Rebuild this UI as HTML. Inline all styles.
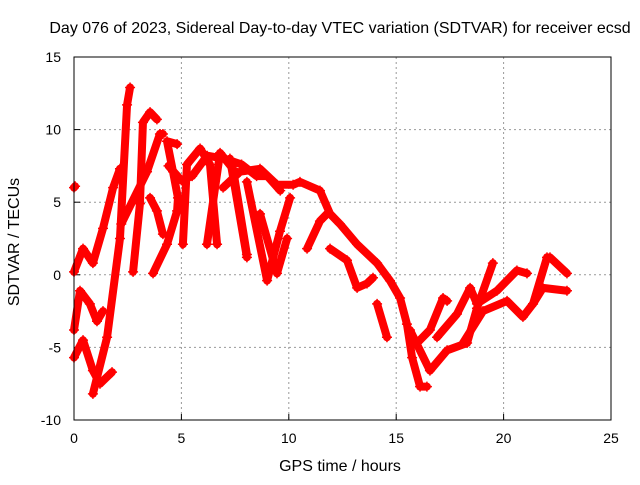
<!DOCTYPE html>
<html><head><meta charset="utf-8"><style>
body{margin:0;background:#fff;}
svg text{font-family:"Liberation Sans",sans-serif;font-size:14px;fill:#000;}
svg text.big{font-size:16px;}
</style></head><body>
<svg id="chart" width="640" height="480" xmlns="http://www.w3.org/2000/svg">
<text class="big" x="340" y="33" text-anchor="middle">Day 076 of 2023, Sidereal Day-to-day VTEC variation (SDTVAR) for receiver ecsd</text>
<text class="big" x="340" y="471" text-anchor="middle">GPS time / hours</text>
<text class="big" x="0" y="0" transform="translate(19,242) rotate(-90)" text-anchor="middle">SDTVAR / TECUs</text>
<g id="grid"></g><g id="axes"></g><g id="marks"></g>
<rect x="74" y="57" width="537" height="363" fill="none" stroke="#000" stroke-width="1"/>
</svg>
<script>
const xTicks=[0,5,10,15,20,25];
const yTicks=[-10,-5,0,5,10,15];
const tracks=[
[[0.88,-8.2],[1.54,-4.3],[2.14,2.5],[2.47,11.7],[2.61,12.9]],
[[0,-5.7],[0.42,-4.5],[0.88,-6.6],[1.21,-7.5],[1.77,-6.7]],
[[0,-3.8],[0.28,-1.1],[0.74,-2.0],[1.07,-3.2],[1.35,-2.5]],
[[0,0.2],[0.42,1.8],[0.88,0.8],[1.35,3.2],[1.82,6.0],[2.14,7.3]],
[[2.75,0.2],[3.07,4.9],[3.21,10.5],[3.54,11.2],[3.86,10.7]],
[[3.68,0.1],[4.33,2.1],[4.8,4.4],[4.84,5.3],[4.61,7.1],[4.33,9.2],[4.8,9.0]],
[[2.2,3.5],[3.4,7.1],[4.0,9.7],[4.14,9.7]],
[[3.54,5.3],[3.86,4.4],[4.14,2.8]],
[[5.07,2.1],[5.26,7.6],[5.87,8.7],[6.33,7.6],[6.66,2.1]],
[[6.19,2.1],[6.8,8.4],[7.4,7.3],[8.05,1.4]],
[[6.94,6.0],[7.73,7.1],[8.66,7.3],[9.45,6.2],[10.2,6.2],[10.52,6.4],[11.45,5.8],[11.92,4.2],[12.38,3.5],[13.18,2.1],[14.11,0.8],[14.71,-0.4],[15.18,-1.6],[15.5,-3.4],[15.74,-5.7],[16.11,-7.7],[16.43,-7.7]],
[[8.05,6.4],[8.99,-0.4],[9.59,3.0],[10.06,5.3]],
[[8.66,4.2],[9.45,0.1],[9.92,2.5]],
[[7.26,8.0],[8.05,1.2]],
[[10.85,1.8],[11.45,3.7],[11.78,4.2]],
[[11.92,1.8],[12.71,1.0],[13.18,-0.9],[13.64,-0.6],[13.92,-0.2]],
[[14.11,-2.0],[14.57,-4.3]],
[[15.64,-3.8],[16.57,-6.6],[17.37,-5.2],[18.3,-4.7],[18.76,-2.3],[19.5,0.8]],
[[15.97,-4.7],[16.57,-3.8],[17.18,-1.6],[17.37,-1.8]],
[[16.9,-4.3],[17.83,-2.7],[18.44,-0.9],[18.76,-2.0],[19.69,-1.1],[20.62,0.3],[21.09,0.1]],
[[18.11,-4.7],[19.04,-2.5],[20.16,-1.8],[20.9,-2.9],[21.37,-2.0],[21.83,-0.9],[22.95,-1.1]],
[[21.37,-2.0],[22.02,1.2],[22.16,1.2],[22.95,0.1]],
[[4.4,7.5],[5.0,6.5],[5.5,6.8],[6.2,8.2],[7.0,8.0],[7.8,7.6],[8.5,6.8],[9.0,6.8],[9.6,5.8]],
[[0,6.0],[0.05,6.1]]
];
const NS="http://www.w3.org/2000/svg";
const X=t=>74+t*(537/25);
const Y=v=>57+(15-v)*(363/25);
const grid=document.getElementById('grid'),axes=document.getElementById('axes'),marks=document.getElementById('marks');
function mk(tag,attrs,parent){const e=document.createElementNS(NS,tag);for(const k in attrs)e.setAttribute(k,attrs[k]);parent.appendChild(e);return e;}
xTicks.forEach(t=>{
 if(t>0&&t<25){const g=mk('line',{x1:X(t),x2:X(t),y1:57,y2:420,stroke:'#999','stroke-dasharray':'2,3'},grid);
 
 }
 const tk=mk('line',{x1:X(t),x2:X(t),y1:420,y2:414,stroke:'#000'},axes);
 
 
 const l=mk('text',{x:X(t),y:443,'text-anchor':'middle'},axes);l.textContent=t;
 
 
});
yTicks.forEach(v=>{
 if(v>-10&&v<15){const g=mk('line',{x1:74,x2:611,y1:Y(v),y2:Y(v),stroke:'#999','stroke-dasharray':'2,3'},grid);
 
 }
 const tk=mk('line',{x1:74,x2:80,y1:Y(v),y2:Y(v),stroke:'#000'},axes);
 
 
 const l=mk('text',{x:61,y:Y(v)+5,'text-anchor':'end'},axes);l.textContent=v;
 
 
});
tracks.forEach((tr,i)=>{
 const p=mk('polyline',{points:tr.map(d=>X(d[0])+','+Y(d[1])).join(' '),fill:'none',stroke:'#f00','stroke-width':8,'stroke-linejoin':'round','stroke-linecap':'round'},marks);
 
 
 tr.forEach(d=>{
  const m=mk('path',{d:`M${X(d[0])-5},${Y(d[1])}h10M${X(d[0])},${Y(d[1])-5}v10`,stroke:'#f00','stroke-width':1.5},marks);
  
  
 });
});
</script>
</body></html>
